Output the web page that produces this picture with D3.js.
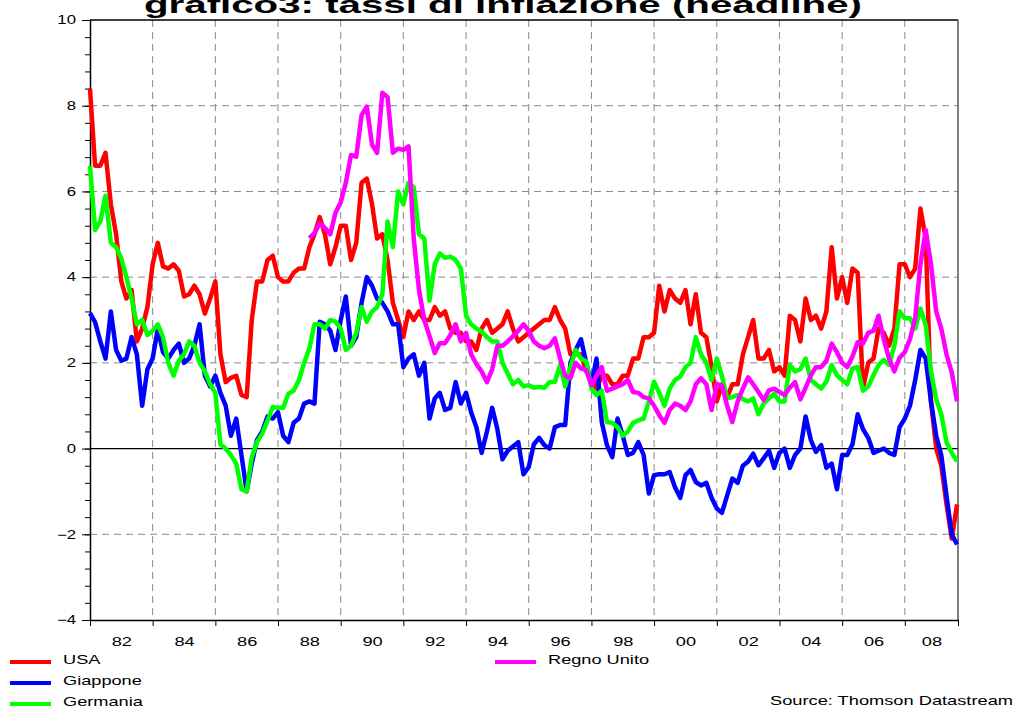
<!DOCTYPE html>
<html>
<head>
<meta charset="utf-8">
<script src="https://cdn.jsdelivr.net/npm/d3@7"></script>
<style>
    body { margin: 0; background: #fff; }
    svg text { font-family: Arial, "Liberation Sans", sans-serif; fill: #000; }
</style>
</head>
<body>
<svg id="chart" width="1015" height="707"></svg>
<script>
// bimonthly readings (Jan, Mar, May, Jul, Sep, Nov), % y/y
var stepMonths = 2;

var usa = [
    8.4, 6.6, 6.6, 6.9, 5.7, 5.0,      // 1982
    3.9, 3.5, 3.7, 2.5, 2.8, 3.3,      // 1983
    4.3, 4.8, 4.25, 4.2, 4.3, 4.15,
    3.55, 3.6, 3.8, 3.6, 3.15, 3.5,
    3.9, 2.2, 1.55, 1.65, 1.7, 1.25,
    1.2, 3.0, 3.9, 3.9, 4.4, 4.5,      // 1987
    4.0, 3.9, 3.9, 4.1, 4.2, 4.2,
    4.7, 5.0, 5.4, 5.0, 4.3, 4.7,
    5.2, 5.2, 4.4, 4.8, 6.2, 6.3,      // 1990
    5.7, 4.9, 5.0, 4.4, 3.4, 3.0,
    2.6, 3.2, 3.0, 3.2, 3.0, 3.0,
    3.3, 3.1, 3.2, 2.8, 2.7, 2.7,
    2.5, 2.5, 2.3, 2.8, 3.0, 2.7,
    2.8, 2.9, 3.2, 2.8, 2.5, 2.6,      // 1995
    2.7, 2.8, 2.9, 3.0, 3.0, 3.3,
    3.0, 2.8, 2.2, 2.2, 2.2, 1.8,
    1.6, 1.4, 1.7, 1.7, 1.5, 1.5,
    1.7, 1.7, 2.1, 2.1, 2.6, 2.6,
    2.7, 3.8, 3.2, 3.7, 3.5, 3.4,      // 2000
    3.7, 2.9, 3.6, 2.7, 2.6, 1.9,
    1.1, 1.5, 1.2, 1.5, 1.5, 2.2,
    2.6, 3.0, 2.1, 2.1, 2.3, 1.8,
    1.9, 1.7, 3.1, 3.0, 2.5, 3.5,
    3.0, 3.1, 2.8, 3.2, 4.7, 3.5,      // 2005
    4.0, 3.4, 4.2, 4.1, 1.4, 2.0,
    2.1, 2.8, 2.7, 2.4, 2.8, 4.3,
    4.3, 4.0, 4.2, 5.6, 4.9, 1.1,
    0.0, -0.4, -1.3, -2.1, -1.3        // 2009
];

var giappone = [
    3.16, 2.95, 2.5, 2.1, 3.2, 2.3,    // 1982
    2.05, 2.1, 2.6, 2.2, 1.0, 1.85,
    2.1, 2.8, 2.25, 2.1, 2.3, 2.45,
    2.0, 2.1, 2.4, 2.9, 1.7, 1.45,
    1.7, 1.3, 1.0, 0.3, 0.7, -0.15,
    -1.0, -0.35, 0.2, 0.4, 0.75, 0.7,  // 1987
    0.85, 0.3, 0.15, 0.6, 0.7, 1.05,
    1.1, 1.05, 2.96, 2.9, 2.75, 2.3,
    3.0, 3.55, 2.4, 2.6, 3.4, 4.0,     // 1990
    3.8, 3.5, 3.4, 3.2, 2.9, 2.9,
    1.9, 2.1, 2.2, 1.7, 2.0, 0.7,
    1.17, 1.3, 0.9, 0.95, 1.55, 1.05,
    1.3, 0.85, 0.5, -0.1, 0.4, 0.95,
    0.45, -0.25, -0.05, 0.05, 0.15, -0.6,  // 1995
    -0.43, 0.1, 0.25, 0.08, 0.0, 0.5,
    0.55, 0.55, 2.0, 2.3, 2.55, 2.0,
    1.5, 2.1, 0.62, 0.08, -0.2, 0.7,
    0.3, -0.15, -0.1, 0.15, -0.15, -1.05,
    -0.62, -0.6, -0.6, -0.55, -0.9, -1.15, // 2000
    -0.62, -0.5, -0.78, -0.86, -0.8, -1.15,
    -1.4, -1.5, -1.1, -0.7, -0.8, -0.4,
    -0.3, -0.12, -0.39, -0.23, -0.05, -0.45,
    -0.1, 0.0, -0.45, -0.15, 0.0, 0.75,
    0.2, -0.08, 0.08, -0.45, -0.35, -0.95, // 2005
    -0.15, -0.15, 0.1, 0.8, 0.45, 0.25,
    -0.1, -0.05, 0.0, -0.1, -0.15, 0.5,
    0.7, 1.0, 1.6, 2.3, 2.1, 1.1,
    0.3, -0.15, -1.1, -2.0, -2.24      // 2009
];

var germania = [
    6.6, 5.1, 5.3, 5.9, 4.8, 4.7,      // 1982
    4.44, 4.0, 3.5, 2.9, 3.0, 2.65,
    2.75, 2.9, 2.6, 2.0, 1.7, 2.05,
    2.2, 2.5, 2.4, 2.0, 1.8, 1.5,
    1.3, 0.1, 0.0, -0.15, -0.35, -0.95,
    -1.0, -0.2, 0.15, 0.35, 0.65, 0.97, // 1987
    0.95, 0.95, 1.28, 1.35, 1.6, 2.0,
    2.34, 2.9, 2.9, 2.8, 3.0, 2.96,
    2.8, 2.3, 2.4, 2.7, 3.3, 2.96,     // 1990
    3.2, 3.3, 3.6, 5.3, 4.7, 6.0,
    5.7, 6.2, 6.1, 5.0, 4.9, 3.45,
    4.3, 4.55, 4.45, 4.48, 4.4, 4.2,
    3.1, 2.9, 2.8, 2.73, 2.6, 2.5,
    2.5, 2.0, 1.75, 1.5, 1.6, 1.45,    // 1995
    1.48, 1.42, 1.44, 1.42, 1.55, 1.56,
    1.95, 1.45, 1.9, 2.3, 2.1, 2.03,
    1.4, 1.25, 1.35, 0.62, 0.6, 0.5,
    0.3, 0.4, 0.6, 0.66, 0.7, 1.1,
    1.56, 1.3, 1.0, 1.4, 1.6, 1.68,    // 2000
    1.9, 2.0, 2.6, 2.2, 2.0, 1.6,
    2.1, 1.7, 1.17, 1.2, 1.25, 1.15,
    1.1, 1.17, 0.8, 1.05, 1.17, 1.28,
    1.1, 1.1, 1.95, 1.8, 1.85, 2.1,
    1.6, 1.5, 1.4, 1.56, 1.95, 1.71,   // 2005
    1.6, 1.5, 1.87, 1.9, 1.35, 1.45,
    1.71, 1.95, 2.07, 1.95, 2.4, 3.2,
    3.04, 3.04, 2.8, 3.27, 2.88, 1.8,
    1.15, 0.8, 0.15, -0.1, -0.3        // 2009
];

// UK series starts in Jan 1989
var regnoUnito = [
    4.91, 5.03, 5.25, 5.15, 5.0, 5.5,  // 1989
    5.75, 6.2, 6.85, 6.81, 7.78, 7.98,
    7.09, 6.9, 8.3, 8.2, 6.9, 7.0,
    6.97, 7.05, 4.9, 3.7, 3.0, 2.62,
    2.23, 2.46, 2.46, 2.65, 2.9, 2.5,
    2.7, 2.2, 1.97, 1.8, 1.55, 1.85,
    2.4, 2.4, 2.5, 2.62, 2.75, 2.9,    // 1995
    2.75, 2.5, 2.4, 2.34, 2.4, 2.57,
    2.1, 1.7, 1.64, 2.0, 1.87, 1.83,
    1.48, 1.7, 1.9, 1.35, 1.4, 1.45,
    1.5, 1.6, 1.32, 1.3, 1.2, 1.17,
    1.0, 0.78, 0.6, 0.9, 1.05, 1.0,    // 2000
    0.9, 1.1, 1.5, 1.64, 1.5, 0.9,
    1.5, 1.48, 1.0, 0.62, 1.1, 1.4,
    1.66, 1.5, 1.32, 1.13, 1.36, 1.4,
    1.32, 1.25, 1.42, 1.55, 1.15, 1.42,
    1.71, 1.9, 1.9, 2.05, 2.45, 2.25,  // 2005
    2.0, 1.9, 2.15, 2.48, 2.45, 2.7,
    2.75, 3.1, 2.55, 2.1, 1.8, 2.12,
    2.25, 2.55, 3.05, 4.3, 5.1, 4.3,
    3.2, 2.8, 2.2, 1.78, 1.1           // 2009
];

var seriesNames = ['USA', 'Giappone', 'Germania', 'Regno Unito'];
var seriesStartYears = [1982, 1982, 1982, 1989];
var seriesValues = [usa, giappone, germania, regnoUnito];

var xTickLabels = ['82', '84', '86', '88', '90', '92', '94', '96', '98', '00', '02', '04', '06', '08'];
var yTickValues = [-4, -2, 0, 2, 4, 6, 8, 10];

/** layout **/
var colors = ['#ff0000', '#0000ff', '#00ff00', '#ff00ff'];
var STRETCH = 1.4;   // the original artwork is stretched horizontally
var dims = {width: 1015, height: 707, left: 90, right: 57, top: 20, bottom: 87};

var svg = d3.select('#chart');

var x = d3.scaleTime()
        .domain([new Date(1982, 0, 1), new Date(2009, 8, 12)])
        .range([dims.left, dims.width - dims.right]);
var y = d3.scaleLinear()
        .domain([-4, 10])
        .range([dims.height - dims.bottom, dims.top]);

function pointDate(startYear, index) {
    return new Date(startYear, index * stepMonths, 1);
}

// every two years, from 1984
var gridDates = d3.range(1984, 2009, 2).map(function(yr) { return new Date(yr, 0, 1); });
var bounds = [x.domain()[0]].concat(gridDates, [x.domain()[1]]);
var labelDates = xTickLabels.map(function(lbl, i) {
    return new Date((bounds[i].getTime() + bounds[i + 1].getTime()) / 2);
});

drawGrid();
drawAxes();
drawSeries();
drawTitle();
drawLegend();

function drawGrid() {
    var g = svg.append('g').attr('class', 'grid');
    g.selectAll('.vgrid').data(gridDates).enter()
            .append('line')
            .attr('x1', function(d) { return x(d); })
            .attr('x2', function(d) { return x(d); })
            .attr('y1', y(10))
            .attr('y2', y(-4))
            .attr('stroke', '#8a8a8a')
            .attr('stroke-width', 1)
            .attr('stroke-dasharray', '7,5');
    g.selectAll('.hgrid').data([8, 6, 4, 2, -2]).enter()
            .append('line')
            .attr('x1', x.range()[0])
            .attr('x2', x.range()[1])
            .attr('y1', function(d) { return y(d); })
            .attr('y2', function(d) { return y(d); })
            .attr('stroke', '#8a8a8a')
            .attr('stroke-width', 1)
            .attr('stroke-dasharray', '7,5');
    // zero line
    g.append('line')
            .attr('x1', x.range()[0]).attr('x2', x.range()[1])
            .attr('y1', y(0)).attr('y2', y(0))
            .attr('stroke', '#000').attr('stroke-width', 1.2);
    // frame top & right
    g.append('line')
            .attr('x1', x.range()[0]).attr('x2', x.range()[1])
            .attr('y1', y(10)).attr('y2', y(10))
            .attr('stroke', '#000').attr('stroke-width', 1.5);
    g.append('line')
            .attr('x1', x.range()[1]).attr('x2', x.range()[1])
            .attr('y1', y(10)).attr('y2', y(-4))
            .attr('stroke', '#555').attr('stroke-width', 1.5);
}

function drawAxes() {
    // minor y ticks
    svg.append('g')
            .attr('transform', 'translate(' + dims.left + ',0)')
            .call(d3.axisLeft(y).tickValues(d3.range(-4, 10.01, 0.4)).tickSize(5).tickFormat(''))
            .call(function(g) { g.select('.domain').remove(); });

    var yAxis = svg.append('g')
            .attr('transform', 'translate(' + dims.left + ',0)')
            .call(d3.axisLeft(y).tickValues(yTickValues).tickSize(8).tickPadding(2).tickSizeOuter(0));
    yAxis.selectAll('text')
            .attr('font-size', '12px')
            .attr('transform', 'scale(' + STRETCH + ',1)');

    svg.append('g')
            .attr('transform', 'translate(0,' + y(-4) + ')')
            .call(d3.axisBottom(x).tickValues(bounds)
                    .tickSize(6).tickFormat('').tickSizeOuter(0));

    var xLabels = svg.append('g')
            .attr('transform', 'translate(0,' + y(-4) + ')')
            .call(d3.axisBottom(x).tickValues(labelDates).tickSize(0).tickPadding(17)
                    .tickFormat(function(d, i) { return xTickLabels[i]; }));
    xLabels.select('.domain').remove();
    xLabels.selectAll('text')
            .attr('font-size', '13px')
            .attr('transform', 'scale(' + STRETCH + ',1)');

    svg.selectAll('.domain').attr('stroke', '#000').attr('stroke-width', 1.5);
    svg.selectAll('.tick line').attr('stroke', '#000');
}

function drawSeries() {
    var line = d3.line()
            .x(function(d) { return x(d.date); })
            .y(function(d) { return y(d.value); });

    seriesValues.forEach(function(values, s) {
        var points = values.map(function(v, i) {
            return {date: pointDate(seriesStartYears[s], i), value: v};
        });
        svg.append('path')
                .datum(points)
                .attr('class', 'series')
                .attr('fill', 'none')
                .attr('stroke', colors[s])
                .attr('stroke-width', 4.5)
                .attr('stroke-linejoin', 'round')
                .attr('stroke-linecap', 'butt')
                .attr('d', line);
    });
}

function drawTitle() {
    // the source picture crops the title at its top edge
    svg.append('text')
            .text('grafico3: tassi di inflazione (headline)')
            .attr('x', 503)
            .attr('y', 13)
            .attr('text-anchor', 'middle')
            .attr('font-size', '24px')
            .attr('font-weight', 'bold')
            .attr('textLength', 718)
            .attr('lengthAdjust', 'spacingAndGlyphs');
}

function drawLegend() {
    var spots = [
        {x: 10, y: 662}, {x: 10, y: 683}, {x: 10, y: 704}, {x: 495, y: 662}
    ];
    var items = svg.selectAll('.legend').data(seriesNames).enter()
            .append('g')
            .attr('class', 'legend')
            .attr('transform', function(d, i) {
                return 'translate(' + spots[i].x + ',' + spots[i].y + ')';
            });
    items.append('line')
            .attr('x1', 0).attr('x2', 41)
            .attr('y1', 0).attr('y2', 0)
            .attr('stroke', function(d, i) { return colors[i]; })
            .attr('stroke-width', 4);
    items.append('text')
            .text(function(d) { return d; })
            .attr('font-size', '13px')
            .attr('transform', 'translate(53,2) scale(' + STRETCH + ',1)');

    svg.append('text')
            .text('Source: Thomson Datastream')
            .attr('x', 1013)
            .attr('y', 705)
            .attr('text-anchor', 'end')
            .attr('font-size', '13px')
            .attr('textLength', 243)
            .attr('lengthAdjust', 'spacingAndGlyphs');
}
</script>
</body>
</html>
